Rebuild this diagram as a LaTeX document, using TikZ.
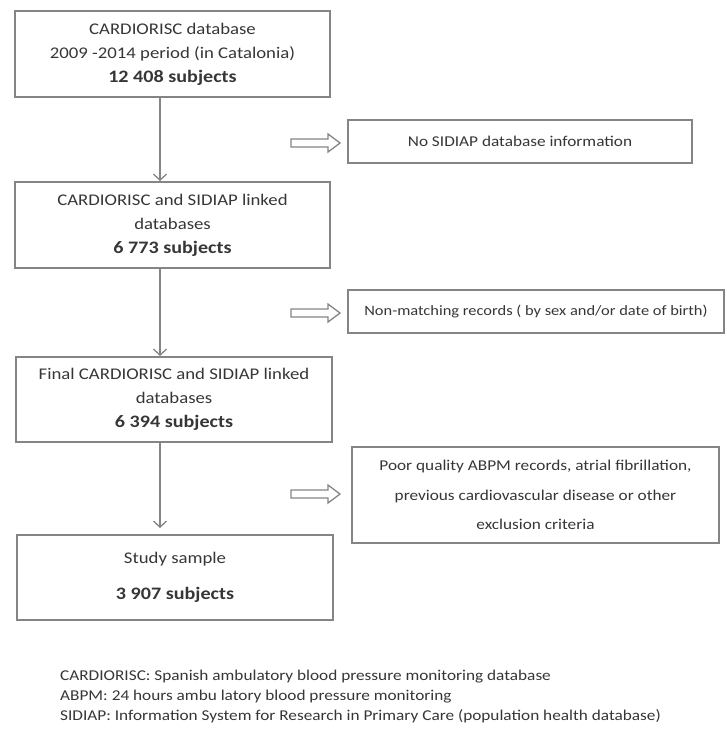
\documentclass[tikz,border=0pt]{standalone}
\usepackage{fontspec}
\setmainfont{Carlito}[FakeStretch=1.15]
\usetikzlibrary{arrows.meta,calc}
\definecolor{linegray}{HTML}{858585}
\definecolor{txtgray}{HTML}{363636}
\newcommand{\bignum}[1]{{\fontsize{17.5}{24}\selectfont\bfseries #1}}
\begin{document}
\begin{tikzpicture}[x=1pt,y=-1pt,
  box/.style={draw=linegray, line width=2pt, text=txtgray, align=center, inner sep=0pt,
              font=\fontsize{16.3}{24}\selectfont},
  flow/.style={draw=linegray, line width=1.3pt, -{Straight Barb[length=6pt,width=13pt]}},
  hollow/.style={draw=linegray, line width=1.3pt, fill=white, line join=miter},
  note/.style={text=txtgray, align=left, inner sep=0pt, font=\fontsize{15}{20}\selectfont}
]
\useasboundingbox (0,0) rectangle (726,731);

\node[box, minimum width=315pt, minimum height=86pt] (b1) at (172.5,54)
  {CARDIORISC database\\2009 -2014 period (in Catalonia)\\\bignum{12 408 subjects}};
\node[box, minimum width=315pt, minimum height=86pt] (b2) at (172.5,225)
  {CARDIORISC and SIDIAP linked\\databases\\\bignum{6 773 subjects}};
\node[box, minimum width=316pt, minimum height=85pt] (b3) at (174,399.5)
  {Final CARDIORISC and SIDIAP linked\\databases\\\bignum{6 394 subjects}};
\node[box, minimum width=316pt, minimum height=85pt] (b4) at (175,577.5)
  {Study sample\\[12pt]\bignum{3 907 subjects}};

\node[box, minimum width=344pt, minimum height=43pt, font=\fontsize{15}{20}\selectfont] (e1) at (520,141.5)
  {No SIDIAP database information};
\node[box, minimum width=376pt, minimum height=43pt, font=\fontsize{14.3}{20}\selectfont] (e2) at (536,311.5)
  {Non-matching records ( by sex and/or date of birth)};
\node[box, minimum width=367pt, minimum height=96pt, font=\fontsize{15}{29.5}\selectfont] (e3) at (535.5,495)
  {Poor quality ABPM records, atrial fibrillation,\\previous cardiovascular disease or other\\exclusion criteria};

\coordinate (ax) at (160,0);
\draw[flow] (b1.south -| ax) -- (b2.north -| ax);
\draw[flow] (b2.south -| ax) -- (b3.north -| ax);
\draw[flow] (b3.south -| ax) -- ($(b4.north -| ax)+(0,-6)$);

\coordinate (h1) at ($(e1.west)+(-7,1.5)$);
\coordinate (h2) at ($(e2.west)+(-7,1.5)$);
\coordinate (h3) at ($(e3.west)+(-11,-1)$);
\foreach \h in {h1,h2,h3}{
  \draw[hollow] (\h) -- ++(-12,-9) -- ++(0,5) -- ++(-37,0) -- ++(0,8) -- ++(37,0) -- ++(0,5) -- cycle;
}

\node[note, anchor=north west] (fn) at (60,670)
  {CARDIORISC: Spanish ambulatory blood pressure monitoring database\\
   ABPM: 24 hours ambu latory blood pressure monitoring\\
   SIDIAP: Information System for Research in Primary Care (population health database)};
\end{tikzpicture}
\end{document}
